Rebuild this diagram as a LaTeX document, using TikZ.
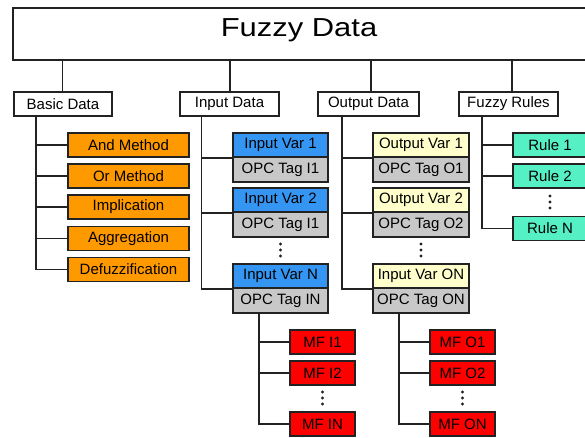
\documentclass[tikz,border=0pt]{standalone}
\usepackage{fontspec}
\setmainfont{Liberation Sans}
\definecolor{borange}{HTML}{FF9900}
\definecolor{bblue}{HTML}{3496F2}
\definecolor{bgray}{HTML}{C8C8C8}
\definecolor{byellow}{HTML}{FFFFCC}
\definecolor{bteal}{HTML}{55F0C4}
\definecolor{bred}{HTML}{FF0000}
\definecolor{bline}{HTML}{222222}
\tikzset{
  box/.style={draw=bline, line width=1.7pt, inner sep=0pt, minimum height=24pt,
    font=\fontsize{15}{18}\selectfont, anchor=center},
  hdr/.style={box, fill=white},
  orangebox/.style={box, fill=borange, minimum width=121pt},
  bluebox/.style={box, fill=bblue, minimum width=95pt},
  graybox/.style={box, fill=bgray, minimum width=95pt, minimum height=25pt},
  ybox/.style={box, fill=byellow, minimum width=96pt},
  ogray/.style={box, fill=bgray, minimum width=96pt, minimum height=25pt},
  tealbox/.style={box, fill=bteal, minimum width=74pt},
  redbox/.style={box, fill=bred, minimum width=65pt},
  conn/.style={draw=bline, line width=1.7pt},
  vdot/.style={fill=bline},
}
\begin{document}
\begin{tikzpicture}[x=1pt,y=-1pt]
\useasboundingbox (0,0) rectangle (585,437);
\fill[white] (0,0) rectangle (585,437);

% top
\node[box, fill=white, minimum width=574pt, minimum height=52pt,
  font=\fontsize{25}{30}\selectfont] (top) at (300,34) {};
\node[font=\fontsize{26}{30}\selectfont, inner sep=0pt] (toptxt) at (299,30) {\scalebox{1.19}[1]{Fuzzy Data}};

% headers
\node[hdr, minimum width=98pt] (bd) at (63,104) {Basic Data};
\node[hdr, minimum width=99pt] (ind) at (229.5,104) {Input Data};
\node[hdr, minimum width=101pt] (outd) at (368.5,104) {Output Data};
\node[hdr, minimum width=99pt] (fr) at (508.5,104) {Fuzzy Rules};

\coordinate (c1) at (62.6,0);
\coordinate (c2) at (230,0);
\coordinate (c3) at (371,0);
\coordinate (c4) at (512,0);
\draw[conn] (bd.north -| c1) -- (c1 |- top.south);
\draw[conn] (ind.north -| c2) -- (c2 |- top.south);
\draw[conn] (outd.north -| c3) -- (c3 |- top.south);
\draw[conn] (fr.north -| c4) -- (c4 |- top.south);

% basic data
\node[orangebox] (b1) at (128.5,145) {And Method};
\node[orangebox] (b2) at (128.5,176) {Or Method};
\node[orangebox] (b3) at (128.5,207) {Implication};
\node[orangebox] (b4) at (128.5,238.5) {Aggregation};
\node[orangebox] (b5) at (128.5,269.5) {Defuzzification};
\coordinate (btr) at (36,116);
\draw[conn] (btr) -- (btr |- b5.west) -- (b5.west);
\foreach \n in {b1,b2,b3,b4} \draw[conn] (btr |- \n.west) -- (\n.west);

% input data
\node[bluebox] (iv1) at (280.5,145) {Input Var 1};
\node[graybox] (it1) at (280.5,169.5) {OPC Tag I1};
\node[bluebox] (iv2) at (280.5,200) {Input Var 2};
\node[graybox] (it2) at (280.5,224.5) {OPC Tag I1};
\node[bluebox] (ivn) at (280.5,276) {Input Var N};
\node[graybox] (itn) at (280.5,300.5) {OPC Tag IN};
\coordinate (itr) at (201.5,116);
\draw[conn] (itr) -- (itr |- ivn.south west) -- (ivn.south west);
\draw[conn] (itr |- iv1.south west) -- (iv1.south west);
\draw[conn] (itr |- iv2.south west) -- (iv2.south west);
\foreach \d in {-6,0,6} \fill[vdot] (280.5,250+\d) circle (1.6);

% output data
\node[ybox] (ov1) at (421,145) {Output Var 1};
\node[ogray] (ot1) at (421,169.5) {OPC Tag O1};
\node[ybox] (ov2) at (421,200) {Output Var 2};
\node[ogray] (ot2) at (421,224.5) {OPC Tag O2};
\node[ybox] (ovn) at (421,276) {Input Var ON};
\node[ogray] (otn) at (421,300.5) {OPC Tag ON};
\coordinate (otr) at (342,116);
\draw[conn] (otr) -- (otr |- ovn.south west) -- (ovn.south west);
\draw[conn] (otr |- ov1.south west) -- (ov1.south west);
\draw[conn] (otr |- ov2.south west) -- (ov2.south west);
\foreach \d in {-6,0,6} \fill[vdot] (421,250+\d) circle (1.6);

% fuzzy rules
\node[tealbox] (r1) at (550,145) {Rule 1};
\node[tealbox] (r2) at (550,176) {Rule 2};
\node[tealbox] (rn) at (550,228.5) {Rule N};
\coordinate (rtr) at (482,116);
\draw[conn] (rtr) -- (rtr |- rn.west) -- (rn.west);
\draw[conn] (rtr |- r1.west) -- (r1.west);
\draw[conn] (rtr |- r2.west) -- (r2.west);
\foreach \d in {-6,0,6} \fill[vdot] (550,202+\d) circle (1.6);

% MF input
\node[redbox] (mi1) at (322.5,342) {MF I1};
\node[redbox] (mi2) at (322.5,373) {MF I2};
\node[redbox] (min) at (322.5,424) {MF IN};
\coordinate (mitr) at (259,313);
\draw[conn] (itn.south -| mitr) -- (mitr |- min.west) -- (min.west);
\draw[conn] (mitr |- mi1.west) -- (mi1.west);
\draw[conn] (mitr |- mi2.west) -- (mi2.west);
\foreach \d in {-6,0,6} \fill[vdot] (322.5,398+\d) circle (1.6);

% MF output
\node[redbox] (mo1) at (462.5,342) {MF O1};
\node[redbox] (mo2) at (462.5,373) {MF O2};
\node[redbox] (mon) at (462.5,424) {MF ON};
\coordinate (motr) at (399,313);
\draw[conn] (otn.south -| motr) -- (motr |- mon.west) -- (mon.west);
\draw[conn] (motr |- mo1.west) -- (mo1.west);
\draw[conn] (motr |- mo2.west) -- (mo2.west);
\foreach \d in {-6,0,6} \fill[vdot] (462.5,398+\d) circle (1.6);
\end{tikzpicture}
\end{document}
